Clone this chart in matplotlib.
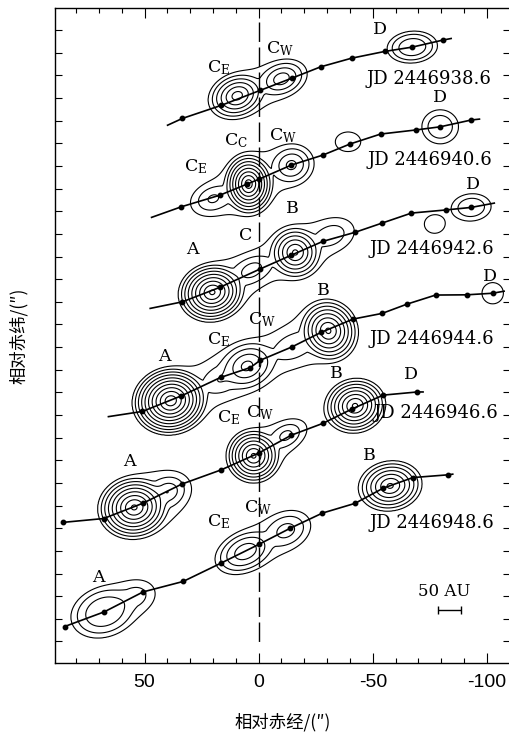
import numpy as np
import matplotlib.pyplot as plt

plt.rcParams['mathtext.fontset'] = 'dejavuserif'

epochs = ['JD 2446938.6', 'JD 2446940.6', 'JD 2446942.6',
          'JD 2446944.6', 'JD 2446946.6', 'JD 2446948.6']

# track positions (relative RA, relative Dec)
t1_x = [39.9, 33.4, 16.3, -0.7, -14.6, -27.2, -40.7, -55.3, -67.3, -80.7, -84.3]
t1_y = [228.0, 231.0, 236.8, 243.4, 248.8, 253.8, 257.6, 260.6, 262.5, 265.6, 266.3]
t2_x = [46.9, 33.8, 17.0, 5.1, 0.0, -14.3, -28.1, -40.0, -53.4, -68.8, -79.5, -93.1, -96.7]
t2_y = [187.3, 192.0, 197.1, 202.0, 204.1, 210.4, 214.8, 219.7, 224.1, 225.9, 227.3, 230.3, 230.7]
t3_x = [47.5, 33.4, 17.0, -0.4, -14.3, -28.1, -42.2, -54.1, -66.9, -82.2, -93.1, -103.2]
t3_y = [147.1, 150.0, 156.4, 164.4, 170.6, 176.7, 180.7, 184.8, 189.2, 190.6, 191.7, 193.6]
t4_x = [65.8, 50.9, 33.8, 16.7, 3.6, -0.7, -14.6, -27.3, -41.4, -54.1, -65.0, -77.5, -91.1, -102.5, -107.5]
t4_y = [99.3, 101.6, 108.5, 116.6, 121.0, 124.2, 130.1, 136.5, 142.4, 144.9, 149.0, 153.0, 153.1, 153.8, 154.7]
t5_x = [85.7, 67.9, 50.6, 33.7, 16.4, 0.0, -14.3, -28.3, -40.7, -54.5, -69.5, -72.0]
t5_y = [52.6, 54.3, 61.1, 69.5, 75.8, 83.2, 91.1, 96.4, 102.6, 108.8, 110.2, 110.2]
t6_x = [85.0, 67.6, 50.6, 33.1, 16.7, -0.3, -13.8, -27.9, -42.2, -54.5, -67.6, -82.9, -85.0]
t6_y = [6.6, 13.1, 21.9, 26.5, 34.5, 43.0, 50.0, 56.7, 61.0, 67.7, 72.4, 73.6, 73.9]
tracks = [(t1_x, t1_y), (t2_x, t2_y), (t3_x, t3_y), (t4_x, t4_y), (t5_x, t5_y), (t6_x, t6_y)]
dot_range = [(1, 10), (1, 12), (1, 11), (1, 14), (0, 11), (0, 12)]

# emission components: x, y, rx, ry, angle, peak (log), shape
b1 = [(9.4, 241.0, 13.0, 10.0, 21, 5.6, 1.3), (-10.0, 248.5, 11.5, 8.0, 21, 3.8, 1.3),
      (-67.3, 262.5, 11.0, 7.0, 5, 2.8, 2.0)]
b2 = [(4.4, 202.0, 11.5, 14.0, 0, 8.8, 1.2), (20.0, 195.5, 10.0, 7.0, 20, 2.3, 1.3),
      (-14.3, 210.4, 10.0, 9.0, 20, 3.4, 1.4),
      (-39.2, 220.7, 5.5, 4.3, 0, 0.8, 2.0), (-79.5, 227.3, 8.0, 7.5, 0, 1.8, 2.0)]
b3 = [(20.3, 154.2, 15.0, 13.0, 15, 8.3, 1.3), (3.0, 164.0, 11.0, 7.0, 25, 2.8, 1.3),
      (-16.0, 171.8, 12.0, 12.0, 20, 6.3, 1.3), (-32.0, 179.5, 10.0, 7.0, 20, 1.8, 1.3),
      (-77.0, 184.3, 4.4, 4.0, 0, 0.8, 2.0), (-93.1, 191.7, 8.7, 6.0, 5, 1.8, 2.0)]
b4 = [(38.5, 106.3, 17.0, 15.0, 15, 9.8, 1.3), (17.0, 115.5, 9.0, 7.0, 25, 1.9, 1.3),
      (5.1, 121.7, 14.0, 11.0, 25, 4.4, 1.4),
      (-14.6, 130.1, 11.0, 8.0, 25, 1.7, 1.3), (-30.5, 137.2, 13.0, 14.0, 20, 7.3, 1.3),
      (-102.5, 153.8, 4.7, 4.7, 0, 0.8, 2.0)]
b5 = [(54.5, 59.2, 16.0, 14.0, 10, 8.3, 1.3), (40.0, 66.0, 10.0, 8.0, 25, 3.0, 1.3),
      (2.2, 82.0, 12.0, 12.0, 20, 7.3, 1.3), (-12.0, 91.0, 9.0, 6.0, 30, 2.5, 1.3),
      (-42.2, 104.1, 13.5, 12.0, 15, 7.3, 1.3)]
b6 = [(67.6, 13.1, 15.0, 11.0, 20, 2.9, 2.0), (54.0, 20.0, 8.0, 6.0, 20, 1.5, 1.5),
      (5.8, 39.7, 14.0, 9.0, 25, 3.7, 1.6), (-12.0, 49.0, 11.0, 8.0, 25, 2.5, 1.5),
      (-57.6, 68.7, 14.0, 11.0, 10, 6.3, 1.3)]
blobs = [b1, b2, b3, b4, b5, b6]

# component labels: text, x, y
labels = [(r'C$_{\mathrm{E}}$', 17.6, 253.4), (r'C$_{\mathrm{W}}$', -9.5, 261.7), ('D', -53.2, 270.2),
          (r'C$_{\mathrm{C}}$', 9.8, 221.2), (r'C$_{\mathrm{W}}$', -10.8, 223.4),
          (r'C$_{\mathrm{E}}$', 27.7, 209.5), ('D', -79.5, 240.4),
          ('D', -93.9, 201.7), ('B', -14.7, 191.1), ('C', 5.8, 179.2), ('A', 29.0, 173.0),
          ('D', -101.4, 161.4), ('B', -28.3, 154.9), (r'C$_{\mathrm{W}}$', -1.6, 142.1),
          (r'C$_{\mathrm{E}}$', 17.6, 133.3), ('A', 41.3, 125.8),
          ('D', -66.8, 117.8), ('B', -34.0, 118.2), (r'C$_{\mathrm{W}}$', -0.7, 101.0),
          (r'C$_{\mathrm{E}}$', 13.3, 98.8), ('A', 56.6, 79.4),
          ('B', -48.4, 82.0), (r'C$_{\mathrm{W}}$', 0.1, 59.0), (r'C$_{\mathrm{E}}$', 17.6, 52.9),
          ('A', 70.1, 28.1)]
epoch_x = [-74.7, -75.1, -76.0, -76.0, -77.7, -76.0]
epoch_y = [248.5, 212.8, 173.4, 133.7, 101.0, 52.4]


def blob_field(X, Y, comps):
    F = np.zeros_like(X)
    for bx, by, rx, ry, ang, peak, g in comps:
        t = np.deg2rad(ang)
        du = -(X - bx)
        dv = Y - by
        u = du * np.cos(t) + dv * np.sin(t)
        v = -du * np.sin(t) + dv * np.cos(t)
        d = np.sqrt((u / rx) ** 2 + (v / ry) ** 2)
        e = np.where(d < 1, peak * (1 - d ** g), -2.5 * (d - 1))
        F += np.exp(e)
    return F


fig = plt.figure(figsize=(5.09, 7.34), dpi=100)
ax = fig.add_axes([55 / 509, 71 / 734, (510.5 - 55) / 509, (663.3 - 8) / 734])

gx = np.arange(-112, 92, 0.25)
gy = np.arange(-12, 282, 0.25)
GX, GY = np.meshgrid(gx, gy)
levels = np.exp(np.arange(0, 12))

for comps in blobs:
    F = blob_field(GX, GY, comps)
    ax.contour(GX, GY, F, levels=levels, colors='black', linewidths=0.8)

for (tx, ty), (i0, i1) in zip(tracks, dot_range):
    ax.plot(tx, ty, '-', color='black', lw=1.2)
    ax.plot(tx[i0:i1], ty[i0:i1], 'o', color='black', ms=3.2)

ax.plot([0, 0], [273.5, -2], color='black', lw=1.0, dashes=(14, 4))

serif = 'DejaVu Serif'
for txt, lx, ly in labels:
    ax.text(lx, ly, txt, fontsize=12.5, family=serif, ha='center', va='center')
for txt, ex, ey in zip(epochs, epoch_x, epoch_y):
    ax.text(ex, ey, txt, fontsize=13, family=serif, ha='center', va='center')

ax.text(-81.2, 22.0, '50 AU', fontsize=12, family=serif, ha='center', va='center')
ax.errorbar(-83.5, 14.0, xerr=5, fmt='none', ecolor='black', elinewidth=1, capsize=3)

ax.set_xlim(89.2, -110.3)
ax.set_ylim(-9.5, 279.9)
ax.set_xticks([50, 0, -50, -100])
ax.set_xticklabels(['50', '0', '-50', '-100'], family='Liberation Sans', fontsize=14)
ax.set_xticks(np.arange(80, -110, -10), minor=True)
ax.set_yticks(np.arange(0, 280, 10))
ax.set_yticklabels([])
ax.tick_params(axis='x', which='major', direction='in', length=7, width=0.8, top=True, pad=8)
ax.tick_params(axis='x', which='minor', direction='in', length=3.6, width=0.8, top=True)
ax.tick_params(axis='y', which='major', direction='in', length=5, width=0.8, right=True)
for s in ax.spines.values():
    s.set_linewidth(1.0)

cjk = ['Noto Sans CJK SC', 'DejaVu Sans']
ax.set_xlabel('相对赤经/(″)', family=cjk, fontsize=12.5, labelpad=16)
ax.set_ylabel('相对赤纬/(″)', family=cjk, fontsize=12.5, labelpad=16)

fig.savefig('out.png', dpi=100)
